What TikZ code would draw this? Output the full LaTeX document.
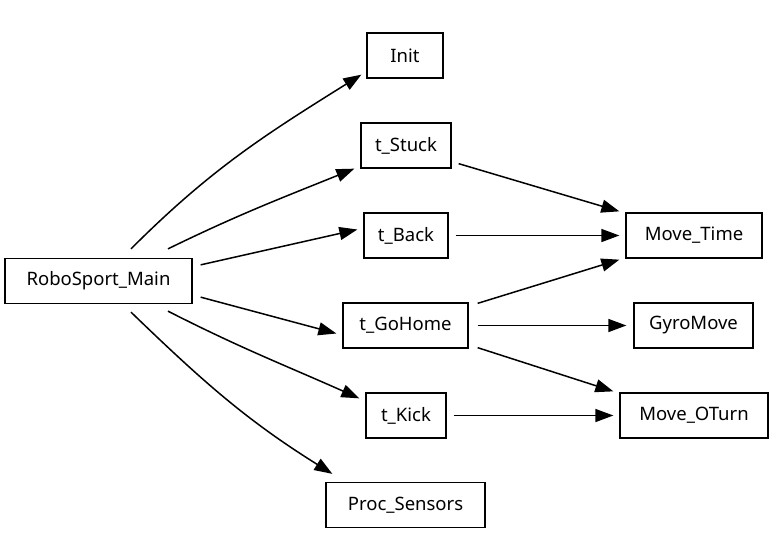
\documentclass[tikz,border=0pt]{standalone}
\usepackage{fontspec}
\setmainfont{Noto Sans}
\usetikzlibrary{arrows.meta}
\begin{document}
\begin{tikzpicture}[x=1pt,y=-1pt,
  box/.style={draw,line width=1.3pt,minimum height=45pt,inner sep=0pt,font=\fontsize{18.5}{21}\selectfont},
  arr/.style={line width=1.5pt,-{Triangle[length=18pt,width=13pt]}}]
\useasboundingbox (0,0) rectangle (783,557);
\node[box,minimum width=187pt] (m) at (98.5,281) {RoboSport\_Main};
\node[box,minimum width=76pt] (i) at (405,55.5) {Init};
\node[box,minimum width=90pt] (s) at (406,145.5) {t\_Stuck};
\node[box,minimum width=84pt] (b) at (406,235.5) {t\_Back};
\node[box,minimum width=125pt] (g) at (405.5,325.5) {t\_GoHome};
\node[box,minimum width=80pt] (k) at (406,415.5) {t\_Kick};
\node[box,minimum width=159pt] (p) at (405.5,505) {Proc\_Sensors};
\node[box,minimum width=136pt] (mt) at (694,235.5) {Move\_Time};
\node[box,minimum width=119pt] (gy) at (693.5,325.5) {GyroMove};
\node[box,minimum width=148pt] (mo) at (694,415.5) {Move\_OTurn};
% from RoboSport_Main
\draw[arr] ([xshift=32.5pt,yshift=9pt]m.north) to[out=45,in=212] ([xshift=-5pt,yshift=4pt]i.south west);
\draw[arr] ([xshift=69.5pt,yshift=9pt]m.north) to[out=26,in=202] ([xshift=-6pt]s.south west);
\draw[arr] ([xshift=8pt,yshift=-7pt]m.north east) -- ([xshift=-6pt,yshift=6pt]b.west);
\draw[arr] ([xshift=8pt,yshift=7pt]m.south east) -- ([xshift=-6pt,yshift=-8pt]g.west);
\draw[arr] ([xshift=69.5pt,yshift=-7pt]m.south) to[out=-27,in=156] ([xshift=-6pt,yshift=-6pt]k.north west);
\draw[arr] ([xshift=32.5pt,yshift=-8pt]m.south) to[out=-44,in=148] ([xshift=7pt,yshift=8pt]p.north west);
% to Move_Time, GyroMove, Move_OTurn
\draw[arr] ([xshift=7pt,yshift=5pt]s.south east) -- ([xshift=-6pt,yshift=1pt]mt.north west);
\draw[arr] ([xshift=7pt]b.east) -- ([xshift=-6pt]mt.west);
\draw[arr] ([xshift=9pt,yshift=-1pt]g.north east) -- ([xshift=-6pt,yshift=-1pt]mt.south west);
\draw[arr] ([xshift=9pt]g.east) -- ([xshift=-7pt]gy.west);
\draw[arr] ([xshift=9pt,yshift=1pt]g.south east) -- ([xshift=-6pt,yshift=1pt]mo.north west);
\draw[arr] ([xshift=7pt]k.east) -- ([xshift=-6pt]mo.west);
\end{tikzpicture}
\end{document}
